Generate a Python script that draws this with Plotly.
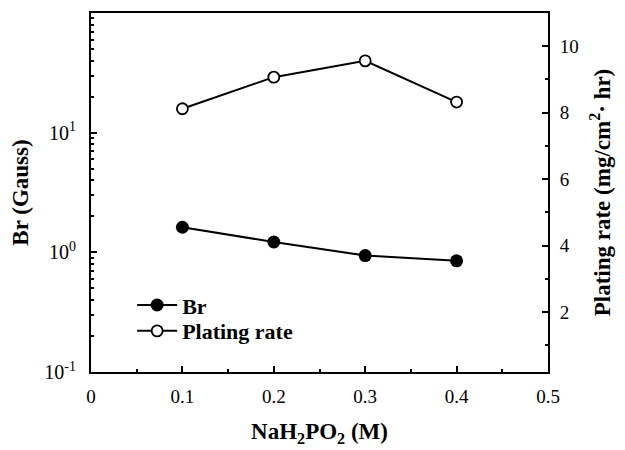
import plotly.graph_objects as go

conc = [0.1, 0.2, 0.3, 0.4]
br = [1.62, 1.22, 0.94, 0.85]
plating = [8.12, 9.07, 9.56, 8.32]

x_ticks = [0, 0.1, 0.2, 0.3, 0.4, 0.5]
x_ticktext = ["0", "0.1", "0.2", "0.3", "0.4", "0.5"]
y_ticks = [0.1, 1, 10]
y_ticktext = ["10<sup>-1</sup>", "10<sup>0</sup>", "10<sup>1</sup>"]
y_minor = [m * d for d in (0.1, 1, 10) for m in range(2, 10)]
y2_ticks = [2, 4, 6, 8, 10]

FONT = "Liberation Serif"
TICK = dict(family=FONT, size=19, color="black")
TITLE = dict(family=FONT, size=23, color="black")
LEG = dict(family=FONT, size=22, color="black")

fig = go.Figure()
fig.add_trace(go.Scatter(
    x=conc, y=br, name="<b>Br</b>", mode="lines+markers",
    line=dict(color="black", width=2),
    marker=dict(symbol="circle", size=13, color="black"),
    yaxis="y", legend="legend"))
fig.add_trace(go.Scatter(
    x=conc, y=plating, name="<b>Plating rate</b>", mode="lines+markers",
    line=dict(color="black", width=2),
    marker=dict(symbol="circle", size=11, color="white",
                line=dict(color="black", width=1.8)),
    yaxis="y2", legend="legend2"))

axis_common = dict(showline=True, linecolor="black", linewidth=2,
                   ticks="inside", tickcolor="black", tickwidth=2, ticklen=6,
                   showgrid=False, zeroline=False, ticklabelstandoff=6,
                   tickfont=TICK)
minor_common = dict(ticks="inside", ticklen=3, tickcolor="black", tickwidth=1.5)
legend_common = dict(xanchor="left", yanchor="middle", bgcolor="rgba(0,0,0,0)",
                     font=LEG, itemwidth=40, borderwidth=0)

fig.update_layout(
    width=617, height=442,
    margin=dict(l=83, r=77, t=3, b=78),
    paper_bgcolor="white", plot_bgcolor="white",
    font=dict(family=FONT, color="black"),
    showlegend=True,
    legend=dict(x=0.09, y=0.186, **legend_common),
    legend2=dict(x=0.09, y=0.114, **legend_common),
    xaxis=dict(range=[0, 0.5], tickvals=x_ticks, ticktext=x_ticktext,
               mirror=True,
               minor=dict(dtick=0.05, **minor_common),
               title=dict(text="<b>NaH<sub>2</sub>PO<sub>2</sub> (M)</b>",
                          font=TITLE, standoff=17),
               **axis_common),
    yaxis=dict(type="log", range=[-1, 2], tickvals=y_ticks, ticktext=y_ticktext,
               minor=dict(tickvals=y_minor, **minor_common),
               title=dict(text="<b>Br (Gauss)</b>", font=TITLE, standoff=13),
               **{**axis_common, "tickfont": dict(family=FONT, size=20, color="black"),
                  "ticklabelstandoff": 9}),
    yaxis2=dict(overlaying="y", side="right", range=[0.2, 11], tickvals=y2_ticks,
                minor=dict(tickvals=[1, 3, 5, 7, 9], **minor_common),
                title=dict(text="<b>Plating rate (mg/cm<sup>2</sup>· hr)</b>",
                           font=TITLE, standoff=16),
                **axis_common),
)

fig.write_html("out.html")
